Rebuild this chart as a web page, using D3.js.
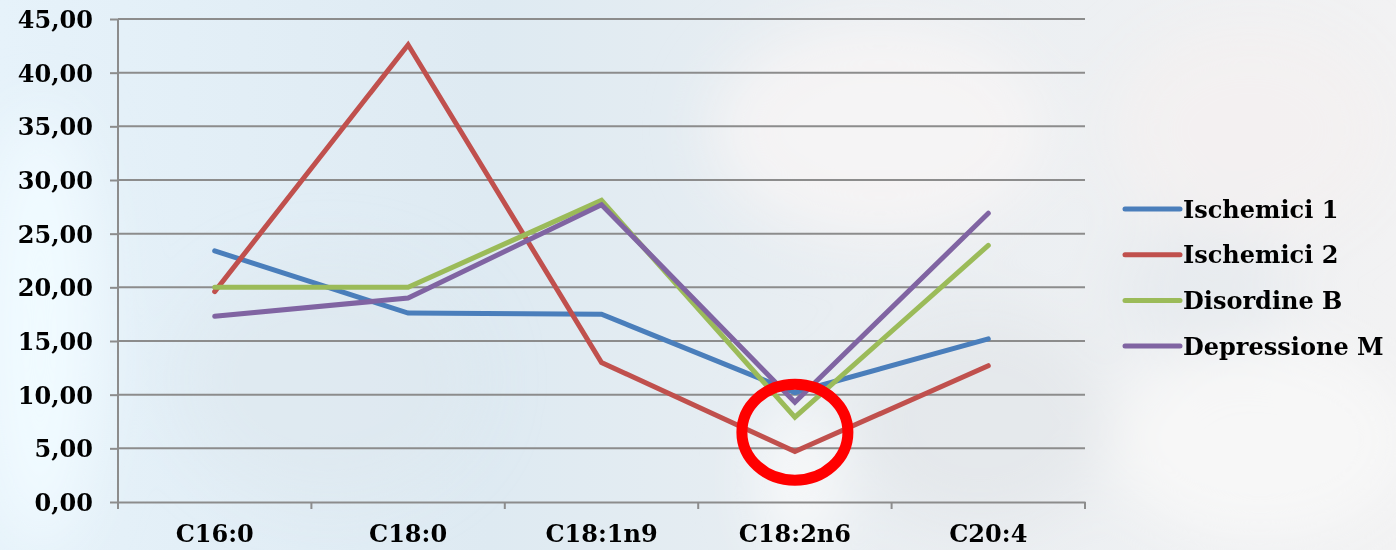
<!DOCTYPE html>
<html>
<head>
<meta charset="utf-8">
<script src="https://cdn.jsdelivr.net/npm/d3@7"></script>
<style>
  html, body { margin: 0; padding: 0; background: #eef4f8; }
  svg { display: block; }
  .tick text { font-family: "DejaVu Serif", serif; font-weight: bold; fill: #000; }
</style>
</head>
<body>
<div id="chart"></div>
<script>
// categories and values
var categories = ["C16:0", "C18:0", "C18:1n9", "C18:2n6", "C20:4"];
var seriesNames = ["Ischemici 1", "Ischemici 2", "Disordine B", "Depressione M"];
var ischemici1 = [23.4, 17.6, 17.5, 10.2, 15.2];
var ischemici2 = [19.6, 42.6, 13.0, 4.7, 12.7];
var disordineB = [20.0, 20.0, 28.1, 7.9, 23.9];
var depressioneM = [17.3, 19.0, 27.7, 9.3, 26.9];
var yTicks = [0, 5, 10, 15, 20, 25, 30, 35, 40, 45];
var colors = ["#4a7ebb", "#c0504d", "#9bbb59", "#8064a2"];
// highlighted point (red ring)
var highlight = { c: "C18:2n6", v: 6.5 };

var w = 1396, h = 550;
var margin = { top: 19, left: 118, right: 311, bottom: 48 };
var pw = w - margin.left - margin.right;
var ph = h - margin.top - margin.bottom;

var svg = d3.select("#chart").append("svg")
  .attr("width", w).attr("height", h);

// blurred photo-like background
var defs = svg.append("defs");
var bg = defs.append("linearGradient").attr("id", "bg").attr("x1", 0).attr("x2", 1).attr("y1", 0).attr("y2", 0);
bg.append("stop").attr("offset", "0%").attr("stop-color", "#e6f2fa");
bg.append("stop").attr("offset", "35%").attr("stop-color", "#deeaf2");
bg.append("stop").attr("offset", "60%").attr("stop-color", "#e9eef2");
bg.append("stop").attr("offset", "100%").attr("stop-color", "#f2f2f3");
defs.append("filter").attr("id", "blur").attr("x", "-50%").attr("y", "-50%").attr("width", "200%").attr("height", "200%")
  .append("feGaussianBlur").attr("stdDeviation", 30);

svg.append("rect").attr("width", w).attr("height", h).attr("fill", "url(#bg)");
var blobs = svg.append("g").attr("filter", "url(#blur)");
blobs.append("ellipse").attr("cx", 40).attr("cy", 330).attr("rx", 60).attr("ry", 220).attr("fill", "#f0faff");
blobs.append("ellipse").attr("cx", 330).attr("cy", 380).attr("rx", 150).attr("ry", 120).attr("fill", "#dde7ee").attr("opacity", 0.6);
blobs.append("ellipse").attr("cx", 880).attr("cy", 130).attr("rx", 170).attr("ry", 110).attr("fill", "#f7f5f5").attr("opacity", 0.8);
blobs.append("ellipse").attr("cx", 980).attr("cy", 420).attr("rx", 130).attr("ry", 110).attr("fill", "#e1e5e8").attr("opacity", 0.6);
blobs.append("ellipse").attr("cx", 800).attr("cy", 480).attr("rx", 40).attr("ry", 80).attr("fill", "#fbfbfb").attr("opacity", 0.8);
blobs.append("ellipse").attr("cx", 1250).attr("cy", 130).attr("rx", 140).attr("ry", 110).attr("fill", "#f4f0f0").attr("opacity", 0.8);
blobs.append("ellipse").attr("cx", 1260).attr("cy", 440).attr("rx", 150).attr("ry", 100).attr("fill", "#f7f7f7");
blobs.append("ellipse").attr("cx", 1200).attr("cy", 290).attr("rx", 90).attr("ry", 70).attr("fill", "#e3e8ec").attr("opacity", 0.6);

var g = svg.append("g").attr("transform", "translate(" + margin.left + "," + margin.top + ")");

var x = d3.scaleBand().domain(categories).range([0, pw]);
var y = d3.scaleLinear().domain([0, 45]).range([ph, 0]);

// gridlines
g.append("g").selectAll("line").data(yTicks.filter(function(d) { return d > 0; }))
  .enter().append("line")
  .attr("x1", 0).attr("x2", pw)
  .attr("y1", function(d) { return y(d); }).attr("y2", function(d) { return y(d); })
  .attr("stroke", "#8c8c8c").attr("stroke-width", 2);

var fmt = function(d) { return d3.format(".2f")(d).replace(".", ","); };

var yAxis = g.append("g")
  .call(d3.axisLeft(y).tickValues(yTicks).tickFormat(fmt).tickSize(8).tickPadding(17));
yAxis.select(".domain").remove();
yAxis.selectAll(".tick line").attr("stroke", "#8c8c8c").attr("stroke-width", 2);
yAxis.selectAll(".tick text").attr("font-size", 24).attr("dy", "0.36em");
g.append("line").attr("x1", 0).attr("x2", 0).attr("y1", 0).attr("y2", ph + 7)
  .attr("stroke", "#8c8c8c").attr("stroke-width", 2);

var xAxis = g.append("g").attr("transform", "translate(0," + ph + ")")
  .call(d3.axisBottom(x).tickSize(0).tickPadding(23));
xAxis.select(".domain").attr("stroke", "#8c8c8c").attr("stroke-width", 2);
xAxis.selectAll(".tick text").attr("font-size", 24);
// category boundary ticks
g.append("g").selectAll("line").data(d3.range(categories.length + 1))
  .enter().append("line")
  .attr("x1", function(i) { return i * x.bandwidth(); })
  .attr("x2", function(i) { return i * x.bandwidth(); })
  .attr("y1", ph).attr("y2", ph + 7)
  .attr("stroke", "#8c8c8c").attr("stroke-width", 2);

var allSeries = [ischemici1, ischemici2, disordineB, depressioneM];
var line = d3.line()
  .x(function(d, i) { return x(categories[i]) + x.bandwidth() / 2; })
  .y(function(d) { return y(d); });

g.selectAll(".series").data(allSeries).enter().append("path")
  .attr("class", "series")
  .attr("d", line)
  .attr("fill", "none")
  .attr("stroke", function(d, i) { return colors[i]; })
  .attr("stroke-width", 5)
  .attr("stroke-linecap", "round")
  .attr("stroke-linejoin", "miter");

// red ring
g.append("ellipse")
  .attr("cx", x(highlight.c) + x.bandwidth() / 2)
  .attr("cy", y(highlight.v))
  .attr("rx", 53).attr("ry", 48)
  .attr("fill", "none").attr("stroke", "#ff0000").attr("stroke-width", 11);

// legend
var legend = svg.append("g").attr("transform", "translate(1125,209)");
var items = legend.selectAll("g").data(seriesNames).enter().append("g")
  .attr("transform", function(d, i) { return "translate(0," + i * 45.7 + ")"; });
items.append("line").attr("x1", 0).attr("x2", 55).attr("y1", 0).attr("y2", 0)
  .attr("stroke", function(d, i) { return colors[i]; })
  .attr("stroke-width", 5).attr("stroke-linecap", "round");
items.append("text").attr("x", 58).attr("dy", "0.36em")
  .attr("font-family", "DejaVu Serif, serif").attr("font-weight", "bold")
  .attr("font-size", 24).attr("fill", "#000")
  .text(function(d) { return d; });
</script>
</body>
</html>
